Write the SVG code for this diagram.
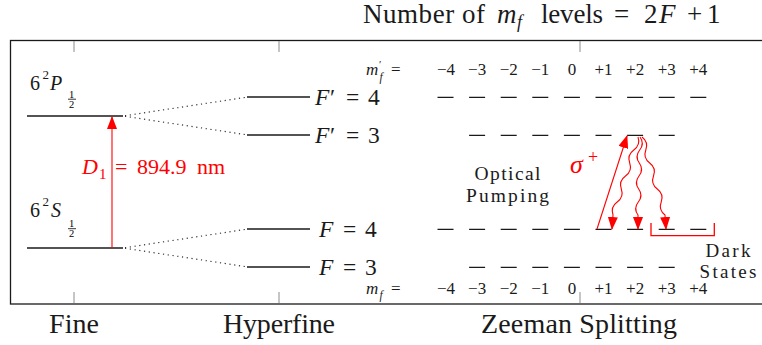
<svg xmlns="http://www.w3.org/2000/svg" width="762" height="345" viewBox="0 0 762 345">
<style>
.t{font-family:"Liberation Serif","Times New Roman",serif;fill:#1a1a1a}
.i{font-style:italic}
.lvl{stroke:#1a1a1a;stroke-width:1.3;fill:none}
.dot{stroke:#333;stroke-width:1.2;stroke-dasharray:1.2 3.6;fill:none}
.tick{stroke:#8c8c8c;stroke-width:1}
.red{stroke:#ff0000;stroke-width:1.1;fill:none}
.rt{fill:#ff0000}
.num{font-size:17px;text-anchor:middle}
</style>
<defs>
<marker id="ah" viewBox="0 0 13 10" refX="12" refY="5" markerWidth="13" markerHeight="10" markerUnits="userSpaceOnUse" orient="auto">
<path d="M0,0 L13,5 L0,10 Z" fill="#ff0000"/>
</marker>
</defs>
<rect width="762" height="345" fill="#ffffff"/>

<g id="title" class="t" font-size="27">
<text x="363" y="22.5" textLength="122" lengthAdjust="spacing">Number of</text>
<text x="497" y="22.5" class="i">m</text>
<text x="517" y="27.5" class="i" font-size="18">f</text>
<text x="541" y="22.5" textLength="62" lengthAdjust="spacing">levels</text>
<text x="614" y="22.5">=</text>
<text x="644" y="22.5">2</text>
<text x="659" y="22.5" class="i">F</text>
<text x="687" y="22.5">+</text>
<text x="707" y="22.5">1</text>
</g>

<g id="frame">
<rect x="10.5" y="40.5" width="800" height="263.5" fill="none" stroke="#1a1a1a" stroke-width="1.3"/>
<line class="tick" x1="74" y1="41" x2="74" y2="52"/>
<line class="tick" x1="279" y1="41" x2="279" y2="52"/>
<line class="tick" x1="580" y1="41" x2="580" y2="52"/>
<line class="tick" x1="74" y1="303" x2="74" y2="292"/>
<line class="tick" x1="279" y1="303" x2="279" y2="292"/>
<line class="tick" x1="580" y1="303" x2="580" y2="292"/>
</g>

<g id="axis-labels" class="t" font-size="28">
<text x="74" y="332.5" text-anchor="middle">Fine</text>
<text x="279" y="332.5" text-anchor="middle" textLength="112" lengthAdjust="spacing">Hyperfine</text>
<text x="579" y="332.5" text-anchor="middle" textLength="196" lengthAdjust="spacing">Zeeman Splitting</text>
</g>

<g id="fine-P">
<line class="lvl" x1="27" y1="116" x2="123" y2="116"/>
<g class="t">
<text x="30" y="90" font-size="20">6</text>
<text x="42.5" y="78.5" font-size="13">2</text>
<text x="50" y="90" font-size="20" class="i">P</text>
<text x="69" y="97.5" font-size="10.5" fill="#000">1</text>
<line x1="68" y1="99.2" x2="76" y2="99.2" stroke="#000" stroke-width="0.8"/>
<text x="69" y="107.5" font-size="10.5" fill="#000">2</text>
</g>
</g>

<g id="fine-S">
<line class="lvl" x1="27" y1="248" x2="123" y2="248"/>
<g class="t">
<text x="30" y="217" font-size="20">6</text>
<text x="42.5" y="206" font-size="13">2</text>
<text x="51" y="217" font-size="20" class="i">S</text>
<text x="69" y="227" font-size="10.5" fill="#000">1</text>
<line x1="68" y1="228.7" x2="76" y2="228.7" stroke="#000" stroke-width="0.8"/>
<text x="69" y="237" font-size="10.5" fill="#000">2</text>
</g>
</g>

<g id="hf-Fp4">
<line class="lvl" x1="247" y1="97" x2="310" y2="97"/>
<text class="t" y="105" font-size="23.5"><tspan x="315" class="i">F</tspan><tspan x="330">′</tspan><tspan x="346">=</tspan><tspan x="368">4</tspan></text>
</g>
<g id="hf-Fp3">
<line class="lvl" x1="247" y1="135" x2="310" y2="135"/>
<text class="t" y="143" font-size="23.5"><tspan x="315" class="i">F</tspan><tspan x="330">′</tspan><tspan x="346">=</tspan><tspan x="368">3</tspan></text>
</g>
<g id="hf-F4">
<line class="lvl" x1="247" y1="229" x2="310" y2="229"/>
<text class="t" y="237" font-size="23.5"><tspan x="319" class="i">F</tspan><tspan x="343">=</tspan><tspan x="365">4</tspan></text>
</g>
<g id="hf-F3">
<line class="lvl" x1="247" y1="267" x2="310" y2="267"/>
<text class="t" y="275" font-size="23.5"><tspan x="319" class="i">F</tspan><tspan x="343">=</tspan><tspan x="365">3</tspan></text>
</g>

<g id="mf-prime-row" class="t">
<text x="366" y="75" font-size="17" class="i">m</text>
<text x="379" y="67.5" font-size="11">′</text>
<text x="379.5" y="81" font-size="11.5" class="i">f</text>
<text x="391" y="75" font-size="17">=</text>
<text class="num" x="446" y="75">−4</text>
<text class="num" x="477.1" y="75">−3</text>
<text class="num" x="508.7" y="75">−2</text>
<text class="num" x="540.3" y="75">−1</text>
<text class="num" x="571.9" y="75">0</text>
<text class="num" x="603.5" y="75">+1</text>
<text class="num" x="635.1" y="75">+2</text>
<text class="num" x="666.7" y="75">+3</text>
<text class="num" x="698.3" y="75">+4</text>
</g>

<g id="mf-row" class="t">
<text x="366" y="294" font-size="17" class="i">m</text>
<text x="379.5" y="298.5" font-size="11.5" class="i">f</text>
<text x="391" y="294" font-size="17">=</text>
<text class="num" x="446" y="294">−4</text>
<text class="num" x="477.1" y="294">−3</text>
<text class="num" x="508.7" y="294">−2</text>
<text class="num" x="540.3" y="294">−1</text>
<text class="num" x="571.9" y="294">0</text>
<text class="num" x="603.5" y="294">+1</text>
<text class="num" x="635.1" y="294">+2</text>
<text class="num" x="666.7" y="294">+3</text>
<text class="num" x="698.3" y="294">+4</text>
</g>

<g id="zeeman-Fp4"><path class="lvl" d="M437.5,97.3h16m15.6,0h16m15.6,0h16m15.6,0h16m15.6,0h16m15.6,0h16m15.6,0h16m15.6,0h16m15.6,0h16"/></g>
<g id="zeeman-Fp3"><path class="lvl" d="M469.1,135.3h16m15.6,0h16m15.6,0h16m15.6,0h16m15.6,0h16m15.6,0h16m15.6,0h16"/></g>
<g id="zeeman-F4"><path class="lvl" d="M437.5,229.3h16m15.6,0h16m15.6,0h16m15.6,0h16m15.6,0h16m15.6,0h16m15.6,0h16m15.6,0h16m15.6,0h16"/></g>
<g id="zeeman-F3"><path class="lvl" d="M469.1,267.3h16m15.6,0h16m15.6,0h16m15.6,0h16m15.6,0h16m15.6,0h16m15.6,0h16"/></g>

<g id="optical-pumping-label" class="t" font-size="19.5">
<text x="507.5" y="179.5" text-anchor="middle" textLength="66" lengthAdjust="spacing">Optical</text>
<text x="507.5" y="201.5" text-anchor="middle" textLength="83" lengthAdjust="spacing">Pumping</text>
</g>

<g id="dark-states">
<path d="M651,223V235.7H714.3V223" stroke="#ff0000" stroke-width="1.3" fill="none"/>
<g class="t" font-size="19">
<text x="728" y="257" text-anchor="middle" textLength="45" lengthAdjust="spacing">Dark</text>
<text x="728" y="278" text-anchor="middle" textLength="57" lengthAdjust="spacing">States</text>
</g>
</g>

<g id="connectors">
<line class="dot" x1="125" y1="115.7" x2="246" y2="97.3"/>
<line class="dot" x1="125" y1="116.3" x2="246" y2="134.7"/>
<line class="dot" x1="125" y1="247.7" x2="246" y2="229.3"/>
<line class="dot" x1="125" y1="248.3" x2="246" y2="266.7"/>
<line class="red" x1="112" y1="248" x2="112" y2="117" marker-end="url(#ah)"/>
<line class="red" x1="597" y1="229" x2="627" y2="136" marker-end="url(#ah)"/>
<path class="red" d="M638,137 Q640.7,145 633.8,150 T629.7,163 T625.5,176 T621.3,189 T617.2,202 T613,215 L612,229" marker-end="url(#ah)"/>
<path class="red" d="M640,137 Q644.8,143.5 639.7,150 T639.3,163 T639,176 T638.7,189 T638.3,202 T638,215 L638,229" marker-end="url(#ah)"/>
<path class="red" d="M642,137 Q648.7,142.1 645.8,150 T649.7,163 T653.5,176 T657.3,189 T661.2,202 T665,215 L666,229" marker-end="url(#ah)"/>
</g>

<g id="red-labels">
<text class="t rt" y="174" font-size="22"><tspan x="82" class="i">D</tspan><tspan x="99" y="178.5" font-size="15">1</tspan><tspan x="115" y="174">=</tspan><tspan x="137">894.9</tspan><tspan x="197">nm</tspan></text>
<text class="t rt i" x="570" y="173" font-size="26">σ</text>
<text class="t rt" x="588" y="163" font-size="18">+</text>
</g>
</svg>
